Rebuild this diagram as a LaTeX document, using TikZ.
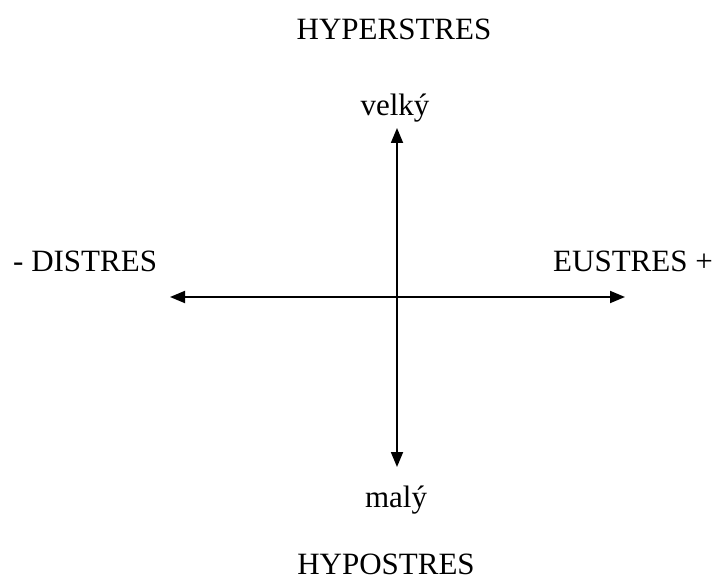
\documentclass[tikz,border=0pt]{standalone}
\usepackage{fontspec}
\setmainfont{Liberation Serif}
\usetikzlibrary{arrows.meta}
\begin{document}
\begin{tikzpicture}[x=1pt,y=1pt,
  lbl/.style={inner sep=0pt, font=\fontsize{31}{36}\selectfont},
  axis/.style={line width=1.8pt, {Triangle[length=15pt,width=12pt]}-{Triangle[length=15pt,width=12pt]}}]
\useasboundingbox (0,0) rectangle (719,579);
\node[lbl, anchor=base] (hyper) at (394,539) {HYPERSTRES};
\node[lbl, anchor=base] (velky) at (395,463) {velký};
\node[lbl, anchor=base west] (dis) at (13,308) {- DISTRES};
\node[lbl, anchor=base east] (eus) at (713,308) {EUSTRES +};
\node[lbl, anchor=base] (maly) at (396,72) {malý};
\node[lbl, anchor=base] (hypo) at (386,5) {HYPOSTRES};
\coordinate (top) at (397,451);
\coordinate (bot) at (397,112);
\coordinate (lft) at (170,282);
\coordinate (rgt) at (625,282);
\draw[axis] (bot) -- (top);
\draw[axis] (lft) -- (rgt);
\end{tikzpicture}
\end{document}
